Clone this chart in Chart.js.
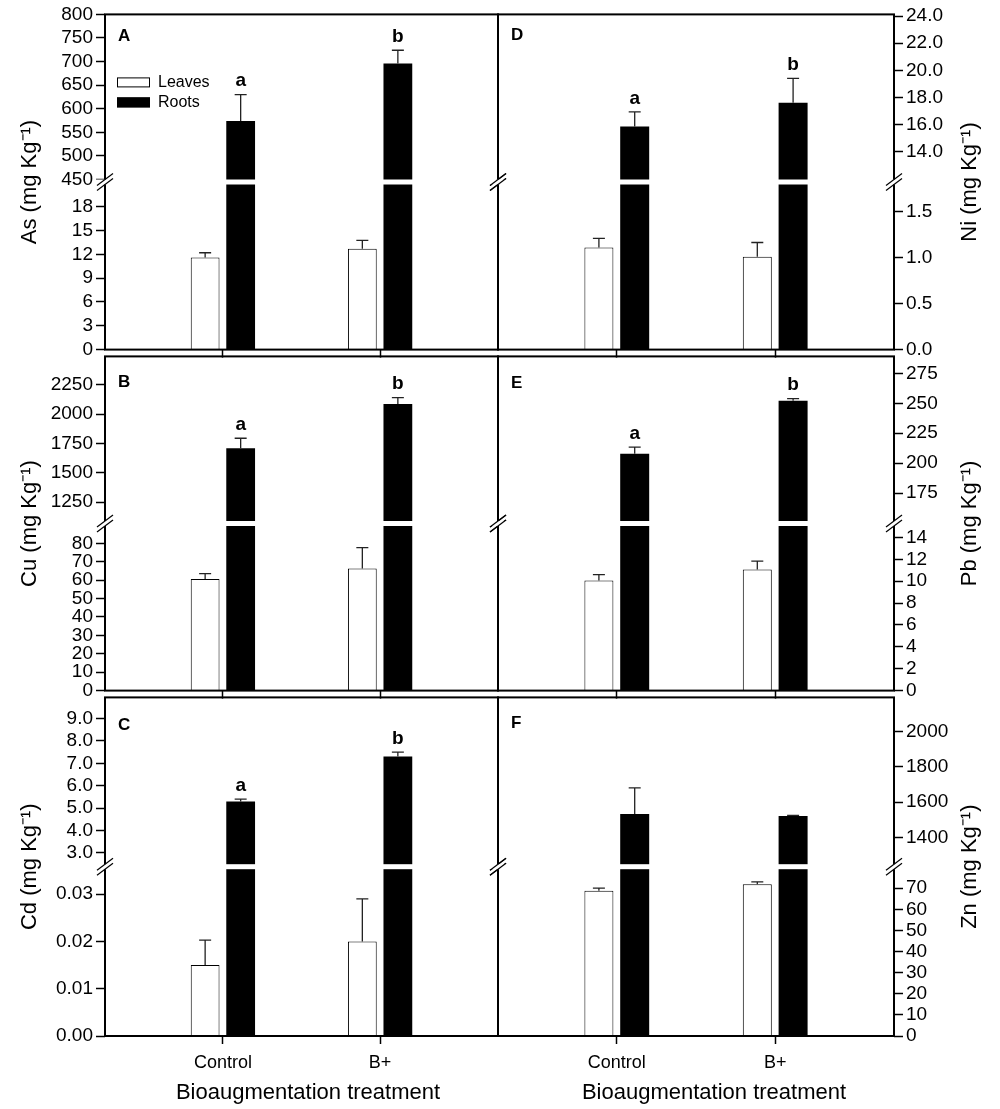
<!DOCTYPE html>
<html>
<head>
<meta charset="utf-8">
<script src="https://cdn.jsdelivr.net/npm/chart.js"></script>
<style>
  body { margin: 0; background: #fff; }
  #fig { position: relative; width: 1000px; height: 1109px; overflow: hidden; background: #fff; }
  #fig canvas { position: absolute; }
</style>
</head>
<body>
<div id="fig"></div>
<script>
// ---- data ----
const categories = ['Control', 'B+'];
const seriesNames = ['Leaves', 'Roots'];
const xTitle = 'Bioaugmentation treatment';

// A - As
const asLeaves = [11.6, 12.7];
const asLeavesSE = [0.6, 1.05];
const asRoots = [574, 696];
const asRootsSE = [56, 28];
const asLetters = ['a', 'b'];
const asTicks = ['0', '3', '6', '9', '12', '15', '18', '450', '500', '550', '600', '650', '700', '750', '800'];

// B - Cu
const cuLeaves = [60.6, 66.3];
const cuLeavesSE = [2.9, 11.4];
const cuRoots = [1708, 2086];
const cuRootsSE = [86, 53];
const cuLetters = ['a', 'b'];
const cuTicks = ['0', '10', '20', '30', '40', '50', '60', '70', '80', '1250', '1500', '1750', '2000', '2250'];

// C - Cd
const cdLeaves = [0.015, 0.020];
const cdLeavesSE = [0.0053, 0.009];
const cdRoots = [5.3, 7.3];
const cdRootsSE = [0.1, 0.2];
const cdLetters = ['a', 'b'];
const cdTicks = ['0.00', '0.01', '0.02', '0.03', '3.0', '4.0', '5.0', '6.0', '7.0', '8.0', '9.0'];

// D - Ni
const niLeaves = [1.11, 1.01];
const niLeavesSE = [0.10, 0.155];
const niRoots = [15.86, 17.6];
const niRootsSE = [1.08, 1.8];
const niLetters = ['a', 'b'];
const niTicks = ['0.0', '0.5', '1.0', '1.5', '14.0', '16.0', '18.0', '20.0', '22.0', '24.0'];

// E - Pb
const pbLeaves = [10.06, 11.08];
const pbLeavesSE = [0.55, 0.75];
const pbRoots = [207.9, 252.2];
const pbRootsSE = [5.5, 1.6];
const pbLetters = ['a', 'b'];
const pbTicks = ['0', '2', '4', '6', '8', '10', '12', '14', '175', '200', '225', '250', '275'];

// F - Zn
const znLeaves = [68.8, 71.9];
const znLeavesSE = [1.2, 1.1];
const znRoots = [1533, 1521];
const znRootsSE = [148, 4];
const znLetters = ['', ''];
const znTicks = ['0', '10', '20', '30', '40', '50', '60', '70', '1400', '1600', '1800', '2000'];

// ---- panels ----
const panels = [
  { id: 'A', col: 0, row: 0, title: 'As (mg Kg⁻¹)', leaves: asLeaves, leavesSE: asLeavesSE, roots: asRoots, rootsSE: asRootsSE, letters: asLetters, ticks: asTicks, brk: { lowMax: 20.8, highMin: 450, max: 800 }, labelDy: 22, legend: true },
  { id: 'B', col: 0, row: 1, title: 'Cu (mg Kg⁻¹)', leaves: cuLeaves, leavesSE: cuLeavesSE, roots: cuRoots, rootsSE: cuRootsSE, letters: cuLetters, ticks: cuTicks, brk: { lowMax: 89.4, highMin: 1090, max: 2490 }, labelDy: 26 },
  { id: 'C', col: 0, row: 2, title: 'Cd (mg Kg⁻¹)', leaves: cdLeaves, leavesSE: cdLeavesSE, roots: cdRoots, rootsSE: cdRootsSE, letters: cdLetters, ticks: cdTicks, brk: { lowMax: 0.0353, highMin: 2.5, max: 9.94 }, labelDy: 28 },
  { id: 'D', col: 1, row: 0, title: 'Ni (mg Kg⁻¹)', leaves: niLeaves, leavesSE: niLeavesSE, roots: niRoots, rootsSE: niRootsSE, letters: niLetters, ticks: niTicks, brk: { lowMax: 1.796, highMin: 11.95, max: 24.12 }, labelDy: 21 },
  { id: 'E', col: 1, row: 1, title: 'Pb (mg Kg⁻¹)', leaves: pbLeaves, leavesSE: pbLeavesSE, roots: pbRoots, rootsSE: pbRootsSE, letters: pbLetters, ticks: pbTicks, brk: { lowMax: 15.05, highMin: 151.8, max: 289.1 }, labelDy: 27 },
  { id: 'F', col: 1, row: 2, title: 'Zn (mg Kg⁻¹)', leaves: znLeaves, leavesSE: znLeavesSE, roots: znRoots, rootsSE: znRootsSE, letters: znLetters, ticks: znTicks, brk: { lowMax: 79, highMin: 1247, max: 2195 }, labelDy: 26 }
];

const FONT = '"Liberation Sans", Arial, sans-serif';
Chart.defaults.font.family = FONT;
Chart.defaults.color = '#000';

const GAP = 5;
const canvasLeft = [0, 487];
const canvasWidth = [510, 513];
const xTitleCenter = [308, 714];   // page x of the column titles
const rowTop = [10, 352, 693];
const rowBot = [352, 693, 1036];

// linear scale with a break: lower half shows 0..lowMax, upper half highMin..max
class BrokenScale extends Chart.LinearScale {
  static id = 'broken';
  static defaults = {};
  determineDataLimits() {
    this.min = 0;
    this.max = this.options.brk.max;
  }
  buildTicks() {
    return this.options.brk.labels.map(s => ({ value: parseFloat(s) }));
  }
  getPixelForValue(v) {
    const b = this.options.brk;
    const seg = (this.bottom - this.top - GAP) / 2;
    if (v <= b.lowMax) return this.bottom - v / b.lowMax * seg;
    if (v >= b.highMin) return this.top + seg - (v - b.highMin) / (b.max - b.highMin) * seg;
    return this.bottom - seg - (v - b.lowMax) / (b.highMin - b.lowMax) * GAP;
  }
  getValueForPixel(px) {
    const b = this.options.brk;
    const seg = (this.bottom - this.top - GAP) / 2;
    if (px >= this.bottom - seg) return (this.bottom - px) / seg * b.lowMax;
    if (px <= this.top + seg) return b.highMin + (this.top + seg - px) / seg * (b.max - b.highMin);
    return b.lowMax;
  }
}
Chart.register(BrokenScale);

function decor(p) {
  return {
    id: 'decor' + p.id,
    afterDatasetsDraw(chart) {
      const { ctx, chartArea: a } = chart;
      const y = chart.scales.y;
      ctx.save();
      // frame
      ctx.strokeStyle = '#000';
      ctx.lineWidth = 2;
      ctx.strokeRect(a.left, a.top, a.right - a.left, a.bottom - a.top);
      // axis break
      const g1 = y.getPixelForValue(p.brk.highMin);
      const g2 = y.getPixelForValue(p.brk.lowMax);
      ctx.fillStyle = '#fff';
      ctx.fillRect(a.left - 10, g1, a.right - a.left + 20, g2 - g1);
      ctx.lineWidth = 1.2;
      [a.left, a.right].forEach(x => [g1, g2].forEach(gy => {
        ctx.beginPath();
        ctx.moveTo(x - 8, gy + 6);
        ctx.lineTo(x + 8, gy - 6);
        ctx.stroke();
      }));
      // error bars + letters
      ctx.strokeStyle = '#222';
      ctx.lineWidth = 1.3;
      chart.data.datasets.forEach((ds, di) => {
        chart.getDatasetMeta(di).data.forEach((bar, j) => {
          const yt = y.getPixelForValue(ds.data[j].y + ds.errors[j]);
          ctx.beginPath();
          ctx.moveTo(bar.x, bar.y);
          ctx.lineTo(bar.x, yt);
          ctx.moveTo(bar.x - 6, yt);
          ctx.lineTo(bar.x + 6, yt);
          ctx.stroke();
          if (di === 1 && p.letters[j]) {
            ctx.fillStyle = '#000';
            ctx.font = 'bold 19px ' + FONT;
            ctx.textAlign = 'center';
            ctx.textBaseline = 'bottom';
            ctx.fillText(p.letters[j], bar.x, yt - 4);
          }
        });
      });
      // panel letter
      ctx.fillStyle = '#000';
      ctx.font = 'bold 17px ' + FONT;
      ctx.textAlign = 'left';
      ctx.textBaseline = 'middle';
      ctx.fillText(p.id, a.left + 13, a.top + p.labelDy);
      // legend
      if (p.legend) {
        ctx.font = '16px ' + FONT;
        chart.data.datasets.forEach((ds, di) => {
          const bx = a.left + 12, by = a.top + 63 + di * 20;
          ctx.fillStyle = ds.backgroundColor;
          ctx.fillRect(bx, by, 33, 10);
          ctx.strokeStyle = '#000';
          ctx.lineWidth = 1;
          ctx.strokeRect(bx + 0.5, by + 0.5, 32, 9);
          ctx.fillStyle = '#000';
          ctx.fillText(ds.label, bx + 41, by + 5);
        });
      }
      // column title under the bottom row
      if (p.row === 2) {
        ctx.font = '22px ' + FONT;
        ctx.textAlign = 'center';
        ctx.textBaseline = 'middle';
        ctx.fillText(xTitle, xTitleCenter[p.col] - canvasLeft[p.col], chart.height - 16);
      }
      // right-hand axis title, reading bottom to top
      if (p.col === 1) {
        ctx.translate(y.right - 30, (a.top + a.bottom) / 2);
        ctx.rotate(-Math.PI / 2);
        ctx.font = '22px ' + FONT;
        ctx.textAlign = 'center';
        ctx.textBaseline = 'middle';
        ctx.fillText(p.title, 0, 0);
      }
      ctx.restore();
    }
  };
}

const fig = document.getElementById('fig');

panels.forEach(p => {
  const top = rowTop[p.row], bot = rowBot[p.row];
  const bottomRow = p.row === 2;
  const xh = bottomRow ? 1109 - bot : 12;
  const c = document.createElement('canvas');
  c.width = canvasWidth[p.col];
  c.height = 10 + (bot - top) + xh;
  c.style.left = canvasLeft[p.col] + 'px';
  c.style.top = (top - 10) + 'px';
  fig.appendChild(c);

  new Chart(c, {
    type: 'bar',
    data: {
      datasets: [
        { label: seriesNames[0], data: p.leaves.map((v, i) => ({ x: i, y: v })), errors: p.leavesSE,
          backgroundColor: '#fff', borderColor: '#000', borderWidth: 1,
          categoryPercentage: 0.452, barPercentage: 0.81 },
        { label: seriesNames[1], data: p.roots.map((v, i) => ({ x: i, y: v })), errors: p.rootsSE,
          backgroundColor: '#000', borderColor: '#000', borderWidth: 0,
          categoryPercentage: 0.452, barPercentage: 0.81 }
      ]
    },
    options: {
      responsive: false,
      animation: false,
      events: [],
      layout: { padding: { top: 10, bottom: 0, left: p.col ? 11 : 0, right: p.col ? 0 : 12 } },
      plugins: { legend: { display: false }, tooltip: { enabled: false } },
      scales: {
        x: {
          type: 'linear',
          min: -0.75,
          max: 1.75,
          offset: false,
          afterBuildTicks: s => { s.ticks = categories.map((c, i) => ({ value: i })); },
          afterFit: s => { s.height = xh; },
          grid: { display: true, offset: false, drawOnChartArea: false, drawTicks: true, tickLength: 8, tickColor: '#000', tickWidth: 1.5 },
          border: { display: false },
          ticks: { display: bottomRow, font: { size: 18 }, color: '#000', padding: 8, callback: v => categories[v] }
        },
        y: {
          type: 'broken',
          position: p.col === 0 ? 'left' : 'right',
          brk: { lowMax: p.brk.lowMax, highMin: p.brk.highMin, max: p.brk.max, labels: p.ticks },
          afterFit: s => { s.width = p.col === 0 ? 105 : 106; },
          grid: { drawOnChartArea: false, drawTicks: true, tickLength: 9, tickColor: '#000', tickWidth: 1.5 },
          border: { display: false },
          ticks: { autoSkip: false, font: { size: 19 }, color: '#000', padding: 3, callback: (v, i) => p.ticks[i] },
          title: { display: p.col === 0, text: p.title, font: { size: 22 }, color: '#000', padding: { top: 17, bottom: 0 } }
        }
      }
    },
    plugins: [decor(p)]
  });
});
</script>
</body>
</html>
